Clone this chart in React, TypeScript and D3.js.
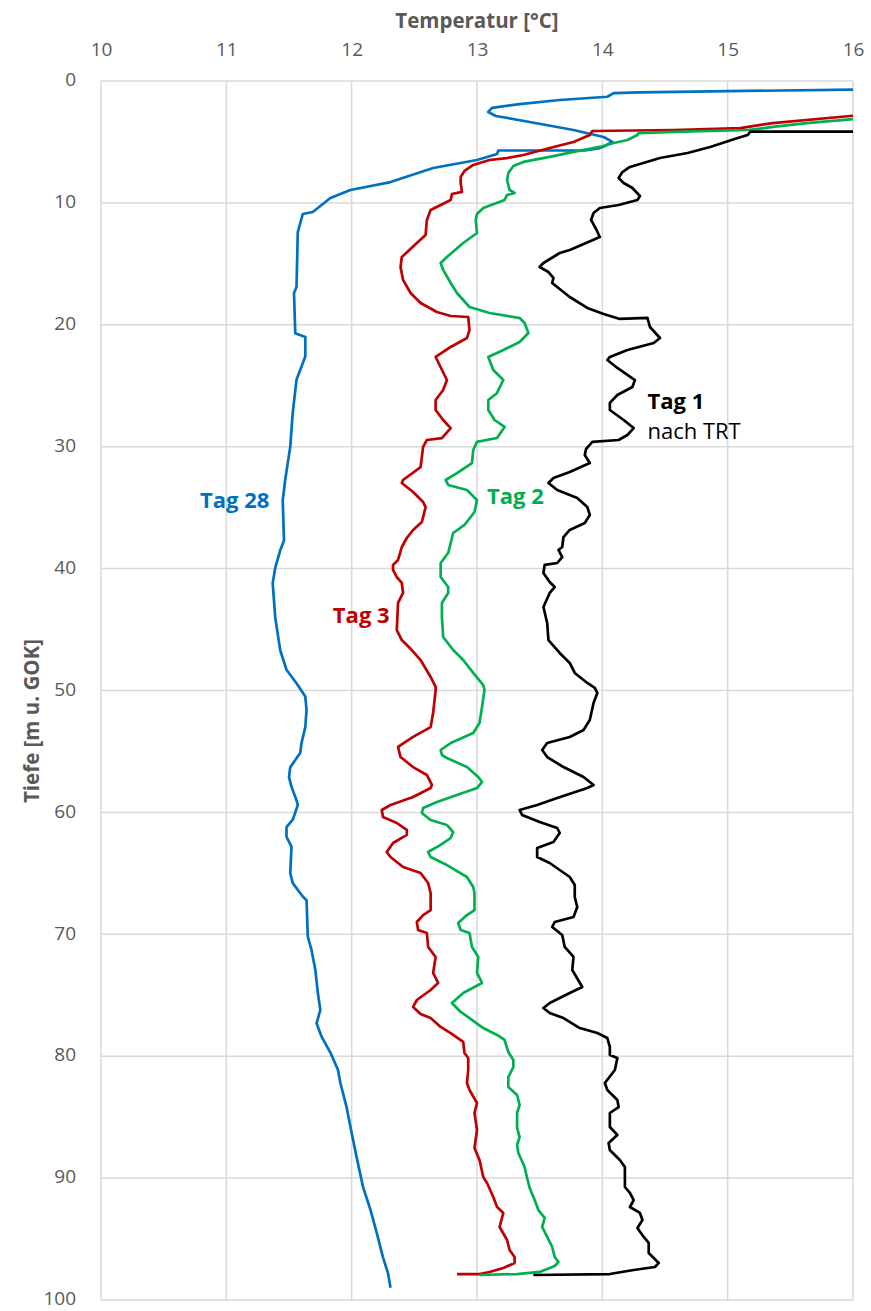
import { useCallback, useEffect, useRef } from 'react';

import { axisLeft, axisTop, line, scaleLinear, select } from 'd3';

type Pt = [number, number]; // [temperature °C, depth m]

const tempTicks = [10, 11, 12, 13, 14, 15, 16];
const depthTicks = [0, 10, 20, 30, 40, 50, 60, 70, 80, 90, 100];

// Tag 28 (blue)
const tag28: Pt[] = [
  [16.0, 0.7], [14.3, 0.93], [14.09, 1.0], [14.04, 1.29], [13.66, 1.56], [13.34, 1.89],
  [13.12, 2.21], [13.09, 2.54], [13.15, 2.87], [13.42, 3.36], [13.77, 4.02], [14.01, 4.59],
  [14.08, 5.0], [14.02, 5.33], [13.98, 5.5], [13.86, 5.7], [13.17, 5.7], [13.16, 5.99],
  [13.0, 6.48], [12.65, 7.14], [12.31, 8.29], [11.99, 8.94], [11.83, 9.6], [11.69, 10.75],
  [11.61, 10.91], [11.57, 12.39], [11.56, 16.9], [11.54, 17.4], [11.55, 20.7], [11.63, 21.0],
  [11.63, 22.6], [11.56, 24.5], [11.53, 27.2], [11.51, 30.0], [11.47, 32.7], [11.45, 34.4],
  [11.46, 37.7], [11.43, 38.5], [11.39, 39.95], [11.37, 41.2], [11.39, 44.0], [11.43, 46.7],
  [11.48, 48.3], [11.56, 49.4], [11.63, 50.5], [11.64, 51.6], [11.63, 53.0], [11.6, 54.3],
  [11.59, 55.1], [11.51, 56.3], [11.5, 57.1], [11.52, 57.9], [11.56, 59.0], [11.57, 59.4],
  [11.53, 60.6], [11.48, 61.2], [11.48, 62.0], [11.52, 62.8], [11.51, 65.0], [11.53, 65.8],
  [11.61, 66.9], [11.64, 67.2], [11.65, 70.2], [11.68, 71.3], [11.71, 72.9], [11.73, 74.8],
  [11.75, 76.2], [11.72, 77.3], [11.76, 78.4], [11.83, 79.7], [11.89, 81.1], [11.91, 82.2],
  [11.96, 84.2], [12.0, 86.3], [12.04, 88.3], [12.09, 90.7], [12.15, 92.6], [12.2, 94.5],
  [12.25, 96.5], [12.29, 97.8], [12.31, 99.0],
];

// Tag 3 (red)
const tag3: Pt[] = [
  [16.0, 2.85], [15.36, 3.45], [15.1, 3.86], [14.57, 4.02], [13.92, 4.1], [13.9, 4.43],
  [13.77, 5.0], [13.58, 5.5], [13.37, 6.07], [13.24, 6.32], [13.1, 6.48], [12.97, 6.89],
  [12.9, 7.38], [12.87, 7.88], [12.87, 8.37], [12.88, 9.1], [12.8, 9.27], [12.79, 9.76],
  [12.63, 10.58], [12.6, 11.4], [12.59, 12.63], [12.52, 13.29], [12.4, 14.44], [12.39, 15.26],
  [12.41, 16.32], [12.47, 17.39], [12.55, 18.21], [12.68, 18.95], [12.79, 19.28], [12.93, 19.36],
  [12.94, 20.43], [12.92, 21.08], [12.79, 21.82], [12.67, 22.64], [12.76, 24.53], [12.73, 25.35],
  [12.67, 26.17], [12.67, 26.99], [12.73, 27.81], [12.79, 28.47], [12.72, 29.29], [12.6, 29.45],
  [12.57, 30.02], [12.55, 31.67], [12.41, 32.73], [12.4, 32.98], [12.49, 33.72], [12.57, 34.54],
  [12.59, 34.95], [12.56, 36.18], [12.49, 36.83], [12.44, 37.49], [12.4, 38.23], [12.37, 39.29],
  [12.33, 39.7], [12.33, 40.11], [12.36, 40.69], [12.4, 41.18], [12.41, 42.0], [12.37, 42.82],
  [12.36, 45.04], [12.4, 45.86], [12.48, 46.68], [12.55, 47.5], [12.63, 48.89], [12.67, 49.71],
  [12.67, 49.96], [12.65, 51.85], [12.63, 53.0], [12.49, 53.81], [12.37, 54.63], [12.39, 55.46],
  [12.49, 56.28], [12.6, 56.93], [12.64, 57.75], [12.63, 58.0], [12.49, 58.74], [12.31, 59.39],
  [12.24, 59.8], [12.25, 60.38], [12.36, 60.87], [12.44, 61.44], [12.44, 61.85], [12.33, 62.51],
  [12.28, 63.25], [12.31, 63.66], [12.41, 64.48], [12.55, 64.97], [12.61, 65.79], [12.63, 66.61],
  [12.63, 68.01], [12.57, 68.42], [12.52, 68.99], [12.53, 69.65], [12.6, 69.89], [12.61, 71.04],
  [12.67, 71.86], [12.65, 73.17], [12.69, 73.99], [12.63, 74.57], [12.52, 75.39], [12.49, 75.96],
  [12.55, 76.54], [12.63, 76.87], [12.71, 77.6], [12.79, 78.1], [12.89, 78.83], [12.9, 79.74],
  [12.93, 80.15], [12.93, 81.13], [12.92, 82.2], [12.94, 82.77], [13.0, 83.84], [12.98, 84.66],
  [13.0, 86.05], [12.98, 87.53], [13.02, 88.52], [13.05, 89.91], [13.08, 90.4], [13.13, 91.55],
  [13.16, 92.37], [13.21, 92.86], [13.18, 94.01], [13.24, 95.08], [13.26, 95.9], [13.3, 96.47],
  [13.3, 96.97], [13.21, 97.37], [13.1, 97.7], [13.02, 97.87], [12.84, 97.87],
];

// Tag 2 (green)
const tag2: Pt[] = [
  [16.0, 3.12], [15.63, 3.45], [15.36, 3.77], [15.16, 4.02], [14.57, 4.18], [14.29, 4.27],
  [14.28, 4.43], [14.2, 4.84], [14.09, 5.09], [13.98, 5.41], [13.77, 5.82], [13.58, 6.23],
  [13.37, 6.64], [13.29, 6.97], [13.25, 7.55], [13.24, 8.12], [13.26, 8.94], [13.3, 9.19],
  [13.24, 9.35], [13.22, 9.76], [13.05, 10.42], [13.0, 10.91], [12.99, 11.4], [13.0, 12.47],
  [12.89, 13.29], [12.76, 14.44], [12.71, 14.93], [12.73, 15.5], [12.79, 16.57], [12.84, 17.39],
  [12.94, 18.54], [13.1, 19.03], [13.34, 19.44], [13.38, 19.85], [13.41, 20.67], [13.34, 21.41],
  [13.21, 22.07], [13.09, 22.64], [13.13, 23.71], [13.21, 24.53], [13.16, 25.59], [13.09, 26.17],
  [13.09, 26.99], [13.14, 27.81], [13.22, 28.38], [13.16, 29.29], [13.0, 29.61], [12.97, 30.27],
  [12.96, 31.34], [12.84, 32.16], [12.75, 32.73], [12.77, 33.14], [12.92, 33.55], [13.0, 34.37],
  [12.98, 35.36], [12.9, 36.42], [12.81, 37.08], [12.79, 37.9], [12.77, 38.72], [12.71, 39.54],
  [12.71, 40.69], [12.77, 41.51], [12.77, 42.0], [12.72, 42.82], [12.72, 43.97], [12.73, 45.61],
  [12.81, 46.68], [12.89, 47.5], [12.97, 48.56], [13.05, 49.55], [13.06, 49.96], [13.04, 51.35],
  [13.02, 52.67], [12.97, 53.49], [12.79, 54.31], [12.71, 54.88], [12.72, 55.29], [12.76, 55.54],
  [12.92, 56.28], [13.01, 57.1], [13.04, 57.51], [13.0, 58.0], [12.84, 58.57], [12.68, 59.15],
  [12.57, 59.64], [12.56, 60.05], [12.63, 60.62], [12.76, 61.03], [12.81, 61.61], [12.79, 62.1],
  [12.71, 62.67], [12.61, 63.25], [12.63, 63.66], [12.76, 64.32], [12.92, 65.3], [12.97, 66.12],
  [12.98, 66.61], [12.98, 68.01], [12.92, 68.42], [12.85, 69.07], [12.87, 69.65], [12.94, 69.89],
  [12.96, 71.04], [13.01, 71.86], [13.0, 73.17], [13.04, 73.99], [12.89, 74.81], [12.8, 75.64],
  [12.87, 76.37], [12.94, 76.87], [13.05, 77.69], [13.16, 78.26], [13.22, 78.67], [13.25, 79.66],
  [13.29, 80.31], [13.29, 80.89], [13.25, 81.71], [13.25, 82.53], [13.32, 83.18], [13.34, 84.0],
  [13.32, 84.66], [13.32, 85.89], [13.34, 86.63], [13.32, 87.28], [13.33, 87.94], [13.38, 89.09],
  [13.4, 89.99], [13.42, 90.81], [13.46, 91.8], [13.49, 92.62], [13.54, 93.27], [13.52, 94.01],
  [13.56, 94.83], [13.6, 95.65], [13.62, 96.47], [13.65, 96.88], [13.62, 97.21], [13.5, 97.7],
  [13.32, 97.87], [13.02, 97.95],
];

// Tag 1 nach TRT (black)
const tag1: Pt[] = [
  [16.0, 4.16], [15.18, 4.16], [15.16, 4.43], [15.08, 4.68], [14.86, 5.41], [14.68, 5.91],
  [14.46, 6.32], [14.22, 7.05], [14.16, 7.47], [14.13, 7.96], [14.17, 8.37], [14.24, 8.78],
  [14.3, 9.43], [14.28, 9.76], [14.13, 10.17], [13.98, 10.42], [13.93, 10.83], [13.91, 11.4],
  [13.95, 12.14], [13.98, 12.8], [13.87, 13.29], [13.74, 13.86], [13.66, 14.11], [13.53, 14.93],
  [13.5, 15.26], [13.57, 15.67], [13.61, 16.16], [13.6, 16.57], [13.74, 17.72], [13.88, 18.62],
  [14.01, 19.11], [14.14, 19.52], [14.36, 19.44], [14.38, 20.18], [14.46, 21.08], [14.41, 21.49],
  [14.2, 22.07], [14.06, 22.64], [14.04, 22.89], [14.12, 23.54], [14.26, 24.53], [14.24, 25.1],
  [14.12, 25.76], [14.06, 26.41], [14.06, 26.99], [14.17, 27.81], [14.25, 28.47], [14.2, 29.04],
  [14.13, 29.45], [13.92, 29.61], [13.87, 30.19], [13.86, 30.68], [13.9, 31.34], [13.74, 32.08],
  [13.61, 32.57], [13.57, 32.98], [13.64, 33.55], [13.8, 34.21], [13.88, 34.95], [13.9, 35.6],
  [13.86, 36.26], [13.74, 36.83], [13.69, 37.41], [13.68, 38.23], [13.65, 38.47], [13.68, 39.05],
  [13.64, 39.54], [13.54, 39.7], [13.53, 40.36], [13.58, 41.1], [13.62, 41.51], [13.58, 42.0],
  [13.53, 43.15], [13.56, 44.46], [13.57, 45.86], [13.66, 46.92], [13.74, 47.74], [13.78, 48.56],
  [13.88, 49.38], [13.94, 49.79], [13.96, 50.2], [13.93, 51.03], [13.9, 52.42], [13.85, 53.24],
  [13.74, 53.81], [13.56, 54.31], [13.52, 54.88], [13.56, 55.46], [13.69, 56.28], [13.85, 57.1],
  [13.93, 57.75], [13.88, 58.0], [13.64, 58.82], [13.48, 59.39], [13.34, 59.8], [13.36, 60.21],
  [13.5, 60.79], [13.64, 61.28], [13.66, 61.69], [13.61, 62.43], [13.48, 62.92], [13.48, 63.66],
  [13.58, 64.15], [13.74, 65.3], [13.78, 65.96], [13.78, 66.94], [13.8, 67.76], [13.77, 68.58],
  [13.62, 68.99], [13.6, 69.4], [13.68, 70.06], [13.7, 71.04], [13.77, 71.86], [13.76, 72.93],
  [13.84, 74.32], [13.74, 74.82], [13.58, 75.64], [13.53, 76.05], [13.58, 76.46], [13.69, 76.87],
  [13.82, 77.69], [13.96, 78.1], [14.04, 78.51], [14.06, 79.25], [14.06, 79.9], [14.12, 80.15],
  [14.1, 81.13], [14.02, 82.2], [14.04, 82.77], [14.12, 83.59], [14.13, 84.17], [14.06, 84.66],
  [14.06, 85.81], [14.12, 86.46], [14.05, 87.12], [14.06, 87.69], [14.14, 88.52], [14.18, 89.09],
  [14.18, 90.73], [14.22, 91.22], [14.25, 91.8], [14.22, 92.37], [14.3, 92.86], [14.32, 93.44],
  [14.28, 94.09], [14.33, 94.83], [14.37, 95.32], [14.37, 96.14], [14.41, 96.55], [14.45, 96.96],
  [14.42, 97.29], [14.25, 97.54], [14.06, 97.87], [13.45, 97.95],
];

const series = [
  { key: 'tag28', color: '#0070C0', points: tag28 },
  { key: 'tag3', color: '#C00000', points: tag3 },
  { key: 'tag2', color: '#00B050', points: tag2 },
  { key: 'tag1', color: '#000000', points: tag1 },
];

// label anchor positions in data units [temp, depth], baseline
const labels = [
  { text: 'Tag 28', color: '#0070C0', at: [10.79, 35.0] as Pt, bold: true },
  { text: 'Tag 2', color: '#00B050', at: [13.08, 34.7] as Pt, bold: true },
  { text: 'Tag 3', color: '#C00000', at: [11.85, 44.5] as Pt, bold: true },
  { text: 'Tag 1', color: '#000000', at: [14.36, 26.9] as Pt, bold: true },
  { text: 'nach TRT', color: '#000000', at: [14.36, 29.4] as Pt, bold: false },
];

const FONT = "'Open Sans', 'Noto Sans', sans-serif";
const GREY = '#595959';

export default function App() {
  const containerRef = useRef<HTMLDivElement>(null);

  const initChart = useCallback(() => {
    const container = containerRef.current;
    if (!container) return;

    const width = 871,
      height = 1311;
    const plot = { left: 101, top: 81, right: 853, bottom: 1300 };

    const div = select(container);
    div.select('svg').remove();

    const svg = div
      .append('svg')
      .attr('width', width)
      .attr('height', height)
      .style('display', 'block')
      .style('background', '#fff');

    const x = scaleLinear().domain([10, 16]).range([plot.left, plot.right]);
    const y = scaleLinear().domain([0, 100]).range([plot.top, plot.bottom]);

    // grid
    const grid = svg.append('g').attr('class', 'grid');
    grid
      .selectAll('line.v')
      .data(tempTicks)
      .join('line')
      .attr('class', 'v')
      .attr('x1', (d) => x(d))
      .attr('x2', (d) => x(d))
      .attr('y1', plot.top)
      .attr('y2', plot.bottom)
      .attr('stroke', '#d9d9d9')
      .attr('stroke-width', 1.5);
    grid
      .selectAll('line.h')
      .data(depthTicks)
      .join('line')
      .attr('class', 'h')
      .attr('x1', plot.left)
      .attr('x2', plot.right)
      .attr('y1', (d) => y(d))
      .attr('y2', (d) => y(d))
      .attr('stroke', '#d9d9d9')
      .attr('stroke-width', 1.5);

    // axes (labels only)
    svg
      .append('g')
      .attr('class', 'x-axis')
      .attr('transform', `translate(0,${plot.top})`)
      .call(axisTop(x).tickValues(tempTicks).tickSize(0).tickPadding(25).tickFormat((d) => `${d}`))
      .call((g) => {
        g.select('.domain').remove();
        g.selectAll('text')
          .attr('font-family', FONT)
          .attr('font-size', 19)
          .attr('fill', GREY);
      });

    svg
      .append('g')
      .attr('class', 'y-axis')
      .attr('transform', `translate(${plot.left},0)`)
      .call(axisLeft(y).tickValues(depthTicks).tickSize(0).tickPadding(25).tickFormat((d) => `${d}`))
      .call((g) => {
        g.select('.domain').remove();
        g.selectAll('text')
          .attr('font-family', FONT)
          .attr('font-size', 19)
          .attr('dy', '0.25em')
          .attr('fill', GREY);
      });

    // axis titles
    svg
      .append('text')
      .attr('x', (plot.left + plot.right) / 2)
      .attr('y', 28)
      .attr('text-anchor', 'middle')
      .attr('font-family', FONT)
      .attr('font-weight', 'bold')
      .attr('font-size', 20.5)
      .attr('fill', GREY)
      .text('Temperatur [°C]');

    svg
      .append('text')
      .attr('transform', 'translate(39,721) rotate(-90)')
      .attr('text-anchor', 'middle')
      .attr('font-family', FONT)
      .attr('font-weight', 'bold')
      .attr('font-size', 20.5)
      .attr('fill', GREY)
      .text('Tiefe [m u. GOK]');

    // series
    svg
      .append('clipPath')
      .attr('id', 'plot-clip')
      .append('rect')
      .attr('x', plot.left)
      .attr('y', plot.top)
      .attr('width', plot.right - plot.left)
      .attr('height', plot.bottom - plot.top);

    const path = line<Pt>()
      .x((d) => x(d[0]))
      .y((d) => y(d[1]));

    svg
      .append('g')
      .attr('class', 'lines')
      .attr('clip-path', 'url(#plot-clip)')
      .selectAll('path')
      .data(series)
      .join('path')
      .attr('d', (d) => path(d.points))
      .attr('fill', 'none')
      .attr('stroke', (d) => d.color)
      .attr('stroke-width', 2.7)
      .attr('stroke-linejoin', 'round');

    // series labels
    svg
      .append('g')
      .attr('class', 'labels')
      .selectAll('text')
      .data(labels)
      .join('text')
      .attr('x', (d) => x(d.at[0]))
      .attr('y', (d) => y(d.at[1]))
      .attr('font-family', FONT)
      .attr('font-size', 22)
      .attr('font-weight', (d) => (d.bold ? 'bold' : 'normal'))
      .attr('fill', (d) => d.color)
      .text((d) => d.text);
  }, []);

  const destroyChart = useCallback(() => {
    const container = containerRef.current;
    if (!container) return;

    select(container).select('svg').remove();
  }, []);

  useEffect(() => {
    initChart();
    return destroyChart;
  }, [destroyChart, initChart]);

  return (
    <div
      ref={containerRef}
      style={{ position: 'absolute', left: 0, top: 0, background: '#fff' }}
    />
  );
}
